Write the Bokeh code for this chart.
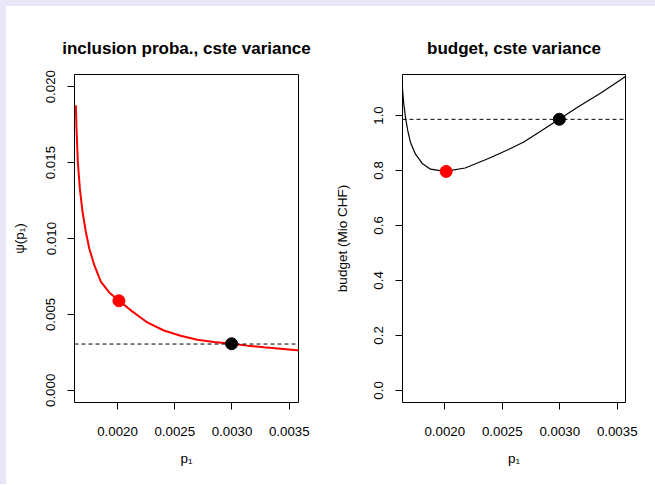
from bokeh.plotting import figure
from bokeh.layouts import row
from bokeh.models import Range1d, Span, FixedTicker, Title
from bokeh.embed import file_html
from bokeh.resources import INLINE

# ---- data ----
p1_psi = [0.0016355, 0.0016416, 0.001653, 0.0016705, 0.001694, 0.001723, 0.0017526,
          0.0017963, 0.001854, 0.0019274, 0.0020149, 0.0021163, 0.0022037, 0.0022596,
          0.0024047, 0.0025507, 0.0026967, 0.0028418, 0.0029965, 0.0031337, 0.0032788,
          0.0034248, 0.0035708, 0.00359]
psi = [0.018771, 0.01724, 0.015045, 0.013298, 0.01176, 0.010446, 0.009356,
       0.008258, 0.007161, 0.00645, 0.005893, 0.00527, 0.00478, 0.00448,
       0.003942, 0.003594, 0.003331, 0.00318, 0.003068, 0.002945, 0.002835,
       0.00274, 0.002635, 0.00262]

p1_budget = [0.0016296, 0.0016435, 0.0016582, 0.0016783, 0.0017017, 0.001745, 0.0018035,
             0.0018756, 0.0020, 0.002177, 0.00238, 0.002554, 0.002687, 0.00284,
             0.0029948, 0.0031513, 0.0033539, 0.0035566, 0.00359]
budget = [1.1071, 1.0407, 0.9924, 0.9438, 0.9016, 0.8592, 0.8254,
          0.8047, 0.7964, 0.809, 0.8436, 0.8762, 0.9038, 0.944,
          0.9862, 1.0287, 1.0806, 1.1376, 1.146]

opt_p1 = 0.002012
opt_psi = 0.0059
opt_budget = 0.7964
cur_p1 = 0.0029965
cur_psi = 0.003068
cur_budget = 0.9862
ref_psi = 0.00305
ref_budget = 0.986

x_ticks = [0.0020, 0.0025, 0.0030, 0.0035]
x_labels = ["0.0020", "0.0025", "0.0030", "0.0035"]
psi_ticks = [0.0, 0.005, 0.010, 0.015, 0.020]
psi_labels = ["0.000", "0.005", "0.010", "0.015", "0.020"]
budget_ticks = [0.0, 0.2, 0.4, 0.6, 0.8, 1.0]
budget_labels = ["0.0", "0.2", "0.4", "0.6", "0.8", "1.0"]

FONT = "Liberation Sans"
TICK_SIZE = "13.3px"
LABEL_SIZE = "13.5px"
PAGE_BG = "#E9E6F7"


def style(p, xt, xl, yt, yl, ylab_standoff):
    p.xaxis.ticker = FixedTicker(ticks=xt)
    p.yaxis.ticker = FixedTicker(ticks=yt)
    p.xaxis.major_label_overrides = {t: l for t, l in zip(xt, xl)}
    p.yaxis.major_label_overrides = {t: l for t, l in zip(yt, yl)}
    for ax in (p.xaxis[0], p.yaxis[0]):
        ax.axis_line_color = None
        ax.major_tick_line_color = "black"
        ax.major_tick_out = 7
        ax.major_tick_in = 0
        ax.minor_tick_line_color = None
        ax.major_label_text_font = FONT
        ax.major_label_text_font_size = TICK_SIZE
        ax.major_label_text_color = "black"
        ax.axis_label_text_font = FONT
        ax.axis_label_text_font_size = LABEL_SIZE
        ax.axis_label_text_font_style = "normal"
        ax.axis_label_text_color = "black"
    p.yaxis.major_label_orientation = "vertical"
    p.yaxis.major_label_standoff = 12
    p.xaxis.major_label_standoff = 17
    p.yaxis.axis_label_standoff = ylab_standoff
    p.xaxis.axis_label_standoff = 12
    p.xgrid.grid_line_color = None
    p.ygrid.grid_line_color = None
    p.outline_line_color = "black"
    p.outline_line_width = 1
    p.outline_line_alpha = 1
    p.background_fill_color = "white"
    p.border_fill_color = "white"


def make_title(text):
    return Title(text=text, align="center", text_font=FONT, text_font_size="17px",
                 text_font_style="bold", text_color="black", standoff=34)


# ---- left panel ----
p1 = figure(width=325, height=478, output_backend="svg", toolbar_location=None,
            x_range=Range1d(0.001624, 0.003581), y_range=Range1d(-0.0008, 0.0208),
            min_border_left=68, min_border_right=33, min_border_top=68, min_border_bottom=82,
            x_axis_label="p\u2081", y_axis_label="\u03c8(p\u2081)")
p1.title = make_title("inclusion proba., cste variance")
style(p1, x_ticks, x_labels, psi_ticks, psi_labels, 17)
p1.line(p1_psi, psi, line_color="red", line_width=2)
p1.add_layout(Span(location=ref_psi, dimension="width", line_color="black",
                   line_dash="4 3", line_width=1))
p1.scatter([opt_p1], [opt_psi], size=12, fill_color="red", line_color="red")
p1.scatter([cur_p1], [cur_psi], size=12, fill_color="black", line_color="black")
p1.margin = (6, 0, 0, 6)

# ---- right panel ----
p2 = figure(width=324, height=478, output_backend="svg", toolbar_location=None,
            x_range=Range1d(0.001632, 0.003572), y_range=Range1d(-0.044, 1.149),
            min_border_left=71, min_border_right=30, min_border_top=68, min_border_bottom=82,
            x_axis_label="p\u2081", y_axis_label="budget (Mio CHF)")
p2.title = make_title("budget, cste variance")
style(p2, x_ticks, x_labels, budget_ticks, budget_labels, 22)
p2.line(p1_budget, budget, line_color="black", line_width=1.2)
p2.add_layout(Span(location=ref_budget, dimension="width", line_color="black",
                   line_dash="4 3", line_width=1))
p2.scatter([opt_p1], [opt_budget], size=12, fill_color="red", line_color="red")
p2.scatter([cur_p1], [cur_budget], size=12, fill_color="black", line_color="black")
p2.margin = (6, 0, 0, 0)

bg = ("linear-gradient(to bottom, %s 6px, rgba(255,255,255,0) 6px), "
      "linear-gradient(to right, %s 6px, #ffffff 6px)") % (PAGE_BG, PAGE_BG)
layout = row(p1, p2, styles={"background": bg})
open("out.html", "w").write(file_html(layout, INLINE))
